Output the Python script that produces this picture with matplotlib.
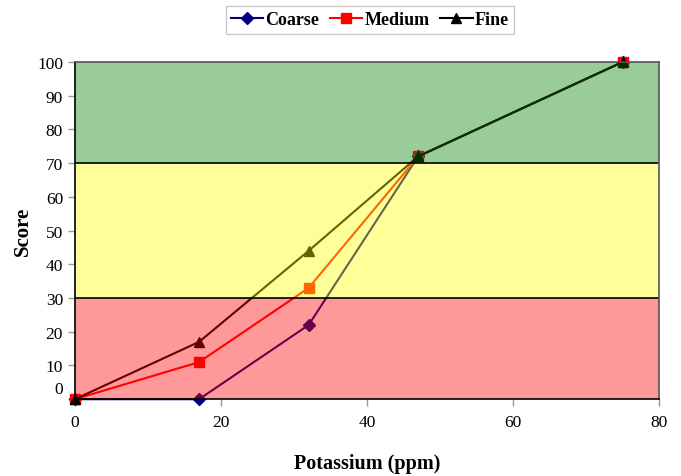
import matplotlib
matplotlib.use('Agg')
import matplotlib.pyplot as plt
import matplotlib.transforms as mtransforms

plt.rcParams['font.family'] = ['Liberation Serif', 'DejaVu Serif']

# data
potassium = [0, 17, 32, 47, 75]
coarse = [0, 0, 22, 72, 100]
medium = [0, 11, 33, 72, 100]
fine = [0, 17, 44, 72, 100]

bands = [(0, 30, '#ff0000'), (30, 70, '#ffff00'), (70, 100, '#008000')]

fig = plt.figure(figsize=(6.81, 4.77), dpi=100)
ax = fig.add_axes([0.110, 0.161, 0.858, 0.707])

l1, = ax.plot(potassium, coarse, color='#000080', marker='D', ms=6, lw=1.5,
              label='Coarse', zorder=2, clip_on=False)
l2, = ax.plot(potassium, medium, color='#ff0000', marker='s', ms=7, lw=1.5,
              label='Medium', zorder=2, clip_on=False)
l3, = ax.plot(potassium, fine, color='#000000', marker='^', ms=7, lw=1.5,
              label='Fine', zorder=2, clip_on=False)

# translucent bands drawn over the lines, which tints them like the original
for lo, hi, c in bands:
    ax.axhspan(lo, hi, color=c, alpha=0.4, zorder=3, lw=0)

ax.axhline(30, color='black', lw=1.2, zorder=4)
ax.axhline(70, color='black', lw=1.2, zorder=4)

ax.set_xlim(0, 80)
ax.set_ylim(0, 100)
ax.set_xticks([0, 20, 40, 60, 80])
ax.set_yticks(range(0, 101, 10))
ax.tick_params(axis='both', labelsize=12.5, color='#999999', length=5, width=1)
ax.tick_params(axis='x', pad=6)

# the 0 label sits a bit above the axis in the original
zero = ax.get_yticklabels()[0]
zero.set_transform(zero.get_transform() + mtransforms.ScaledTranslation(0, 0.12, fig.dpi_scale_trans))

for s in ['left', 'bottom']:
    ax.spines[s].set_color('black')
for s in ['top', 'right']:
    ax.spines[s].set_color('#555555')
for s in ax.spines.values():
    s.set_zorder(5)
    s.set_linewidth(1.2)

ax.set_ylabel('Score', fontsize=15, fontweight='bold', labelpad=3)
ax.set_xlabel('Potassium (ppm)', fontsize=14.5, fontweight='bold', labelpad=16)

leg = fig.legend(handles=[l1, l2, l3], loc='center', bbox_to_anchor=(0.543, 0.956),
                 ncol=3, frameon=True, fancybox=False, prop={'weight': 'bold', 'size': 13},
                 handlelength=1.8, handletextpad=0.1, columnspacing=0.6,
                 borderpad=0.3, edgecolor='#bbbbbb')
leg.get_frame().set_linewidth(1)

fig.savefig('out.png', dpi=100)
